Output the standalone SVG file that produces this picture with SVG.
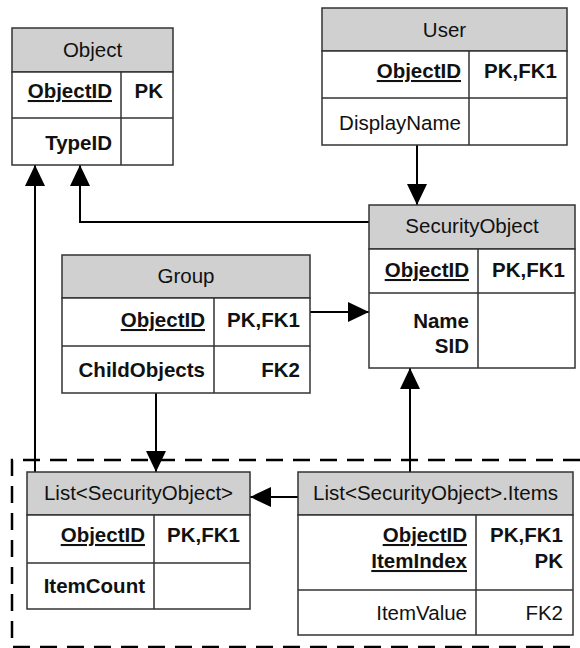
<svg xmlns="http://www.w3.org/2000/svg" width="580" height="648" viewBox="0 0 580 648">
<defs>
<marker id="arr" markerUnits="userSpaceOnUse" markerWidth="22" markerHeight="22" refX="21" refY="10" orient="auto">
<path d="M0,0 L21,10 L0,20 Z" fill="#000"/>
</marker>
<style>
.box{fill:#fff;stroke:#333;stroke-width:1.5}
.hdr{fill:#d0d0d0;stroke:#333;stroke-width:1.5}
.ln{stroke:#333;stroke-width:1.5;fill:none}
text{font-family:"Liberation Sans",Arial,sans-serif;font-size:20.5px;fill:#111}
.h{text-anchor:middle}
.b{font-weight:bold;text-anchor:end}
.r{text-anchor:end}
.u{text-decoration:underline}
.c{stroke:#000;stroke-width:2;fill:none}
</style>
</defs>
<rect width="580" height="648" fill="#fff"/>
<path d="M580,460 H12 V647 H580" fill="none" stroke="#000" stroke-width="2.5" stroke-dasharray="17,10"/>
<g id="connectors">
<path class="c" d="M417,145 V205" marker-end="url(#arr)"/>
<path class="c" d="M369,222 H80 V165" marker-end="url(#arr)"/>
<path class="c" d="M310,312 H369" marker-end="url(#arr)"/>
<path class="c" d="M156,393 V472" marker-end="url(#arr)"/>
<path class="c" d="M35,472 V165" marker-end="url(#arr)"/>
<path class="c" d="M298,497 H250" marker-end="url(#arr)"/>
<path class="c" d="M410,472 V368" marker-end="url(#arr)"/>
</g>
<g id="Object">
<rect class="hdr" x="12" y="28" width="161" height="44"/>
<rect class="box" x="12" y="72" width="161" height="93"/>
<path class="ln" d="M12,118 H173 M121,72 V165"/>
<text class="h" x="92.5" y="57">Object</text>
<text class="b u" x="112" y="98">ObjectID</text>
<text class="b" x="163" y="98">PK</text>
<text class="b" x="112" y="150">TypeID</text>
</g>
<g id="User">
<rect class="hdr" x="322" y="8" width="245" height="43"/>
<rect class="box" x="322" y="51" width="245" height="94"/>
<path class="ln" d="M322,98 H567 M469,51 V145"/>
<text class="h" x="444.5" y="37">User</text>
<text class="b u" x="461" y="78">ObjectID</text>
<text class="b" x="557" y="78">PK,FK1</text>
<text class="r" x="461" y="130">DisplayName</text>
</g>
<g id="SecurityObject">
<rect class="hdr" x="369" y="205" width="206" height="44"/>
<rect class="box" x="369" y="249" width="206" height="119"/>
<path class="ln" d="M369,293 H575 M478,249 V368"/>
<text class="h" x="472" y="233">SecurityObject</text>
<text class="b u" x="469" y="277">ObjectID</text>
<text class="b" x="565" y="277">PK,FK1</text>
<text class="b" x="469" y="328">Name</text>
<text class="b" x="469" y="353">SID</text>
</g>
<g id="Group">
<rect class="hdr" x="62" y="255" width="248" height="43"/>
<rect class="box" x="62" y="298" width="248" height="95"/>
<path class="ln" d="M62,346 H310 M214,298 V393"/>
<text class="h" x="186" y="283">Group</text>
<text class="b u" x="205" y="327">ObjectID</text>
<text class="b" x="300" y="327">PK,FK1</text>
<text class="b" x="205" y="377">ChildObjects</text>
<text class="b" x="300" y="377">FK2</text>
</g>
<g id="ListSecurityObject">
<rect class="hdr" x="27" y="472" width="223" height="43"/>
<rect class="box" x="27" y="515" width="223" height="94"/>
<path class="ln" d="M27,563 H250 M154,515 V609"/>
<text class="h" x="138.5" y="500">List&lt;SecurityObject&gt;</text>
<text class="b u" x="145" y="542">ObjectID</text>
<text class="b" x="240" y="542">PK,FK1</text>
<text class="b" x="145" y="593">ItemCount</text>
</g>
<g id="ListSecurityObjectItems">
<rect class="hdr" x="298" y="472" width="275" height="43"/>
<rect class="box" x="298" y="515" width="275" height="120"/>
<path class="ln" d="M298,590 H573 M476,515 V635"/>
<text class="h" x="435.5" y="500">List&lt;SecurityObject&gt;.Items</text>
<text class="b u" x="467" y="542">ObjectID</text>
<text class="b u" x="467" y="568">ItemIndex</text>
<text class="b" x="563" y="542">PK,FK1</text>
<text class="b" x="563" y="568">PK</text>
<text class="r" x="467" y="620">ItemValue</text>
<text class="r" x="563" y="620">FK2</text>
</g>
</svg>
